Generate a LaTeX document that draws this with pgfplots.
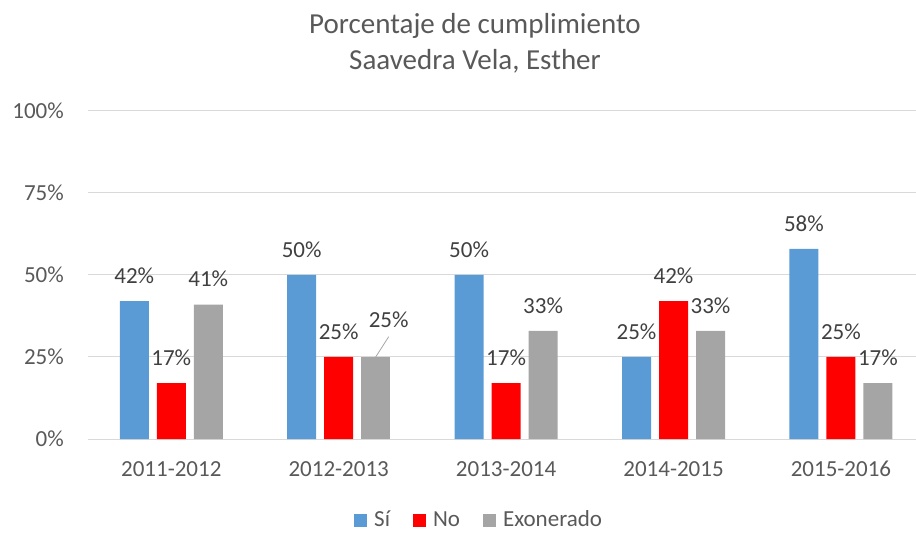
\documentclass[border=0pt]{standalone}
\usepackage{fontspec}
\setmainfont{Carlito}
\usepackage{pgfplots}
\pgfplotsset{compat=1.18}
\definecolor{cblue}{HTML}{5B9BD5}
\definecolor{cred}{HTML}{FF0000}
\definecolor{cgray}{HTML}{A5A5A5}
\definecolor{gridc}{HTML}{D9D9D9}
\definecolor{txt}{HTML}{595959}
\definecolor{lab}{HTML}{404040}
\definecolor{lead}{HTML}{A6A6A6}

\newcommand{\smallfont}{\fontsize{23}{27}\selectfont}
\pgfplotsset{
  barlab/.style={
    nodes near coords={\pgfmathprintnumber{\pgfplotspointmeta}\%},
    point meta=y,
    every node near coord/.append style={font=\smallfont, text=lab, anchor=center,
      inner sep=0pt, yshift=25.5pt, xshift=#1},
  },
  mybar/.style={ybar, bar width=29pt, draw=none, fill=#1,
    legend image code/.code={\fill[#1] (0pt,0pt) rectangle (13pt,13pt);}},
}

\begin{document}
\begin{tikzpicture}
\useasboundingbox (0,0) rectangle (916pt,533pt);
\node[anchor=base, font=\fontsize{29}{34}\selectfont, text=txt, inner sep=0pt] at (475pt,499pt) {Porcentaje de cumplimiento};
\node[anchor=base, font=\fontsize{29}{34}\selectfont, text=txt, inner sep=0pt] at (475pt,463pt) {Saavedra Vela, Esther};
\begin{axis}[
  at={(87.6pt,94pt)}, anchor=south west,
  scale only axis, width=828.4pt, height=328pt,
  xmin=-0.5, xmax=4.4485, ymin=0, ymax=100,
  axis line style={draw=none},
  major tick length=0pt,
  ymajorgrids, grid style={draw=gridc, line width=1pt},
  ytick={0,25,50,75,100}, yticklabels={0\%,25\%,50\%,75\%,100\%},
  xtick={0,1,2,3,4}, xticklabels={2011-2012,2012-2013,2013-2014,2014-2015,2015-2016},
  yticklabel style={font=\smallfont, text=txt, inner sep=0pt, anchor=east, xshift=-23.6pt},
  xticklabel style={font=\smallfont, text=txt, inner sep=0pt, anchor=north, yshift=-22pt},
  /pgf/number format/assume math mode=true,
  legend columns=3,
  legend style={draw=none, fill=none, inner sep=0pt, at={(0.3216,-0.279)}, anchor=south west,
    font=\smallfont, text=txt, cells={anchor=base west, inner sep=0pt},
    /tikz/every odd column/.append style={column sep=5pt},
    /tikz/every even column/.append style={column sep=21pt}},
]
% Sí
\addplot[mybar=cblue, bar shift=-37pt, barlab=-37pt] coordinates {(0,42) (1,50) (2,50) (3,25) (4,58)};
\addlegendentry{Sí}
% No
\addplot[mybar=cred, bar shift=0pt, barlab=0pt] coordinates {(0,17) (1,25) (2,17) (3,42) (4,25)};
\addlegendentry{No}
% Exonerado
\addplot[mybar=cgray, bar shift=37pt, barlab=37pt] coordinates {(0,41) (2,33) (3,33) (4,17)};
\addlegendentry{Exonerado}
\addplot[mybar=cgray, bar shift=37pt, barlab=50pt, forget plot,
  every node near coord/.append style={yshift=11.5pt}] coordinates {(1,25)};
\addplot[draw=lead, line width=0.8pt, forget plot] coordinates {(1.2210,25) (1.2987,31.2)};
\end{axis}
\end{tikzpicture}
\end{document}
